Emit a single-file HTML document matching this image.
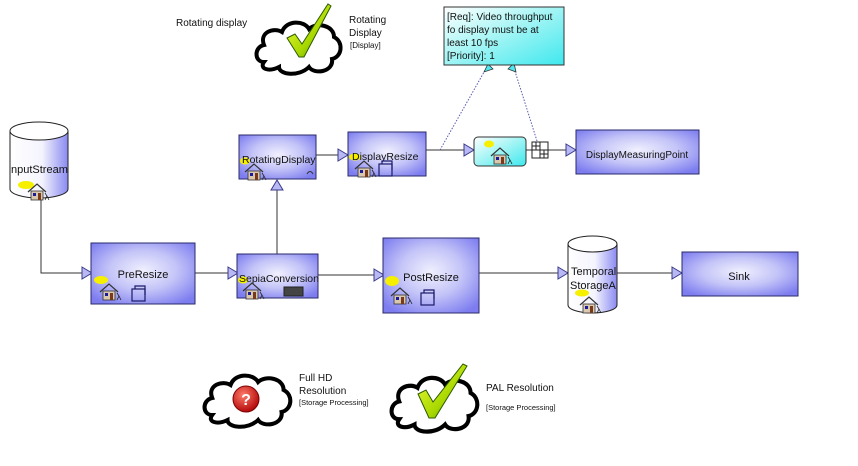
<!DOCTYPE html>
<html><head><meta charset="utf-8"><style>
html,body{margin:0;padding:0;background:#fff;}
svg{display:block;font-family:"Liberation Sans",sans-serif;}
</style></head><body>
<svg width="858" height="466" viewBox="0 0 858 466" xmlns="http://www.w3.org/2000/svg">
<defs>
<radialGradient id="bg" cx="50%" cy="45%" r="65%">
<stop offset="0" stop-color="#f0f0fe"/><stop offset="0.5" stop-color="#c4c4f8"/><stop offset="1" stop-color="#7d7df0"/>
</radialGradient>
<linearGradient id="cyl" x1="0" x2="1" y1="0" y2="0">
<stop offset="0" stop-color="#fff"/><stop offset="0.55" stop-color="#f4f4fe"/><stop offset="1" stop-color="#8a8af2"/>
</linearGradient>
<linearGradient id="cy" x1="0" y1="0" x2="1" y2="1">
<stop offset="0" stop-color="#ffffff"/><stop offset="0.5" stop-color="#9ff4f4"/><stop offset="1" stop-color="#3ee8ee"/>
</linearGradient>
<linearGradient id="chk" x1="0" y1="0" x2="1" y2="1">
<stop offset="0" stop-color="#f4ff40"/><stop offset="0.6" stop-color="#a8d800"/><stop offset="1" stop-color="#3c8a00"/>
</linearGradient>
<radialGradient id="red" cx="40%" cy="35%" r="65%">
<stop offset="0" stop-color="#ff7a6a"/><stop offset="1" stop-color="#b40a0a"/>
</radialGradient>
<g id="house">
<path d="M0,8 L9,0 L18,8" fill="none" stroke="#333" stroke-width="1.2"/>
<rect x="3" y="7" width="12" height="9" fill="#d8c8b0" stroke="#333" stroke-width="0.8"/>
<rect x="5" y="9" width="3" height="3" fill="#1a1a9a"/>
<rect x="10" y="9" width="3" height="7" fill="#7a3a1a"/>
<path d="M17,9 l2,3 l-2,4 M19,12 l2,4" stroke="#222" stroke-width="0.8" fill="none"/>
</g>
<g id="doc"><rect x="0" y="3" width="13" height="12" fill="none" stroke="#1a1a6a" stroke-width="1.2"/><path d="M3,3 V0 H13 V9" fill="none" stroke="#1a1a6a" stroke-width="1.2"/></g>
<g id="tri"><path d="M0,-6 L10,0 L0,6 Z" fill="#b8b8f4" stroke="#3a3a8a" stroke-width="1"/></g>
<path id="cloud" d="M10,45 C0,45 0,30 10,28 C5,15 20,10 28,15 C32,3 50,3 55,12 C62,5 80,8 80,20 C90,25 88,40 78,42 C80,55 60,58 55,50 C45,60 25,58 25,50 C15,55 5,52 10,45 Z" fill="#fff" stroke="#000" stroke-width="4"/>
</defs>

<g stroke="#333" stroke-width="1" fill="none">
<path d="M41,198 V273 H82"/>
<path d="M195,273 H228"/>
<path d="M318,275 H374"/>
<path d="M277,254 V190"/>
<path d="M316,155 H338"/>
<path d="M426,150 H464"/>
<path d="M526,150 H532 M548,150 H566"/>
<path d="M479,273 H558"/>
<path d="M617,273 H672"/>
</g>
<g stroke="#5a5ab0" stroke-width="1" stroke-dasharray="1.5,1.5" fill="none">
<path d="M440,150 L488,65"/><path d="M537,141 L513,65"/>
</g>
<use href="#tri" x="82" y="273"/>
<use href="#tri" x="228" y="273"/>
<use href="#tri" x="374" y="275"/>
<path d="M271,190 L277,180 L283,190 Z" fill="#b8b8f4" stroke="#3a3a8a"/>
<use href="#tri" x="338" y="155"/>
<use href="#tri" x="464" y="150"/>
<use href="#tri" x="566" y="150"/>
<use href="#tri" x="558" y="273"/>
<use href="#tri" x="672" y="273"/>
<path d="M484,72 L488,64 L493,69 Z" fill="#4ee8ee" stroke="#333" stroke-width="0.8"/>
<path d="M508,69 L514,63 L516,72 Z" fill="#4ee8ee" stroke="#333" stroke-width="0.8"/>

<rect x="444" y="7" width="120" height="58" fill="url(#cy)" stroke="#333"/>
<g font-size="10" fill="#111">
<text x="447" y="20">[Req]:  Video throughput</text>
<text x="447" y="33">fo display must be at</text>
<text x="447" y="46">least 10 fps</text>
<text x="447" y="59">[Priority]: 1</text>
</g>

<path d="M10,131 V189 A29,9 0 0 0 68,189 V131" fill="url(#cyl)" stroke="#222"/>
<ellipse cx="39" cy="131" rx="29" ry="9" fill="#fff" stroke="#222"/>
<text x="11" y="173" font-size="11" fill="#111">nputStream</text>
<ellipse cx="26" cy="185" rx="8" ry="4" fill="#f6f000"/>
<use href="#house" x="28" y="184"/>

<rect x="91" y="243" width="104" height="61" fill="url(#bg)" stroke="#2a2a6a"/>
<text x="143" y="278" font-size="11" text-anchor="middle" fill="#111">PreResize</text>
<ellipse cx="101" cy="280" rx="7" ry="4" fill="#f6f000"/>
<use href="#house" x="100" y="284"/><use href="#doc" x="132" y="286"/>

<rect x="237" y="254" width="81" height="44" fill="url(#bg)" stroke="#2a2a6a"/>
<ellipse cx="243" cy="280" rx="5" ry="3.5" fill="#f6f000"/>
<text x="239" y="282" font-size="10.5" fill="#111">SepiaConversion</text>
<use href="#house" x="243" y="283"/>
<rect x="284" y="287" width="19" height="9" fill="#444" stroke="#222"/>

<rect x="239" y="135" width="77" height="44" fill="url(#bg)" stroke="#2a2a6a"/>
<ellipse cx="245" cy="161" rx="5" ry="3.5" fill="#f6f000"/>
<text x="242" y="163" font-size="10.5" fill="#111">RotatingDisplay</text>
<use href="#house" x="245" y="164"/>
<path d="M307,174 q3,-5 6,0" fill="none" stroke="#333"/>

<rect x="348" y="132" width="78" height="44" fill="url(#bg)" stroke="#2a2a6a"/>
<ellipse cx="355" cy="157" rx="6" ry="3.5" fill="#f6f000"/>
<text x="352" y="160" font-size="10.5" fill="#111">DisplayResize</text>
<use href="#house" x="355" y="161"/><use href="#doc" x="379" y="161"/>

<rect x="474" y="137" width="52" height="29" rx="4" fill="url(#cy)" stroke="#333"/>
<ellipse cx="489" cy="144" rx="5" ry="3.5" fill="#f6f000"/>
<use href="#house" x="491" y="148"/>
<rect x="532" y="142" width="16" height="16" fill="#fff" stroke="#222"/>
<path d="M532,150 H548 M540,142 V158 M536,142 V150 M544,150 V158 M532,146 H540 M540,154 H548" stroke="#222" fill="none"/>

<rect x="576" y="130" width="123" height="44" fill="url(#bg)" stroke="#2a2a6a"/>
<text x="637" y="158" font-size="10" text-anchor="middle" fill="#111">DisplayMeasuringPoint</text>

<rect x="383" y="238" width="96" height="75" fill="url(#bg)" stroke="#2a2a6a"/>
<text x="431" y="281" font-size="11" text-anchor="middle" fill="#111">PostResize</text>
<ellipse cx="392" cy="281" rx="7" ry="5" fill="#f6f000"/>
<use href="#house" x="391" y="288"/><use href="#doc" x="421" y="290"/>

<path d="M568,244 V305 A24.5,8 0 0 0 617,305 V244" fill="url(#cyl)" stroke="#222"/>
<ellipse cx="592.5" cy="244" rx="24.5" ry="8" fill="#fff" stroke="#222"/>
<text x="571" y="275" font-size="11" fill="#111">Temporal</text>
<text x="570" y="289" font-size="11" fill="#111">StorageA</text>
<ellipse cx="582" cy="293" rx="7" ry="3.5" fill="#f6f000"/>
<use href="#house" x="580" y="297"/>

<rect x="682" y="252" width="116" height="44" fill="url(#bg)" stroke="#2a2a6a"/>
<text x="739" y="280" font-size="11" text-anchor="middle" fill="#111">Sink</text>

<text x="176" y="26" font-size="10" fill="#111">Rotating display</text>
<use href="#cloud" x="254" y="17"/>
<path d="M287,38 L295,34 L302,44 L328,4 L331,6 L304,57 L299,57 Z" fill="url(#chk)" stroke="#2c5a00" stroke-width="1"/>
<text x="349" y="23" font-size="10" fill="#111">Rotating</text>
<text x="349" y="36" font-size="10" fill="#111">Display</text>
<text x="350" y="48" font-size="8" fill="#111">[Display]</text>

<use href="#cloud" transform="translate(202,370) scale(1.02,1)"/>
<circle cx="246" cy="399" r="13" fill="url(#red)" stroke="#7a0000"/>
<text x="246" y="405" font-size="16" font-weight="bold" text-anchor="middle" fill="#fff">?</text>
<text x="299" y="381" font-size="10" fill="#111">Full HD</text>
<text x="299" y="394" font-size="10" fill="#111">Resolution</text>
<text x="299" y="405" font-size="7.5" fill="#111">[Storage Processing]</text>

<use href="#cloud" transform="translate(389,372) scale(1.02,1.05)"/>
<path d="M418,394 L426,390 L433,402 L463,364 L467,366 L435,418 L429,418 Z" fill="url(#chk)" stroke="#2c5a00" stroke-width="1"/>
<text x="486" y="391" font-size="10" fill="#111">PAL Resolution</text>
<text x="486" y="410" font-size="7.5" fill="#111">[Storage Processing]</text>
</svg>
</body></html>
